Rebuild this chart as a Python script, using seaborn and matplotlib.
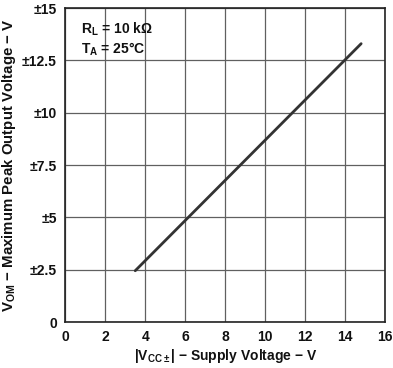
import matplotlib
matplotlib.use("Agg")
import matplotlib.pyplot as plt
import seaborn as sns
import pandas as pd

supply_v = [3.5, 14.8]
peak_out_v = [2.45, 13.3]
x_ticks = [0, 2, 4, 6, 8, 10, 12, 14, 16]
y_ticks = [0, 2.5, 5, 7.5, 10, 12.5, 15]
y_tick_labels = ["0", "±2.5", "±5", "±7.5", "±10", "±12.5", "±15"]

sns.set_theme(style="white")
plt.rcParams['font.family'] = ['Liberation Sans', 'DejaVu Sans']
plt.rcParams['font.weight'] = 'bold'
plt.rcParams['mathtext.fontset'] = 'custom'
plt.rcParams['mathtext.rm'] = 'Liberation Sans:bold'
plt.rcParams['mathtext.bf'] = 'Liberation Sans:bold'
plt.rcParams['mathtext.it'] = 'Liberation Sans:bold'
plt.rcParams['mathtext.default'] = 'rm'

fig = plt.figure(figsize=(3.93, 3.68), dpi=100)
ax = fig.add_axes([0.166, 0.125, 0.814, 0.853])

df = pd.DataFrame({"x": supply_v, "y": peak_out_v})
sns.lineplot(data=df, x="x", y="y", ax=ax, color="#333333", linewidth=2)

ax.set_xlim(0, 16)
ax.set_ylim(0, 15)
ax.set_xticks(x_ticks)
ax.set_yticks(y_ticks)
ax.set_yticklabels(y_tick_labels)
ax.grid(True, color="#606060", linewidth=0.9)
for s in ax.spines.values():
    s.set_color("#222222")
    s.set_linewidth(1.2)
ax.tick_params(axis='both', labelsize=10, length=0, pad=6, colors="#111111")
for lbl in ax.get_xticklabels() + ax.get_yticklabels():
    lbl.set_fontweight('bold')

ax.set_xlabel(r"|V$_{\mathrm{CC\pm}}$| − Supply Voltage − V", fontsize=10, fontweight='bold', labelpad=2, color="#111111")
ax.set_ylabel(r"V$_{\mathrm{OM}}$ − Maximum Peak Output Voltage − V", fontsize=10.8, fontweight='bold', labelpad=3, color="#111111")

ax.text(0.05, 0.96, r"R$_{\mathrm{L}}$ = 10 kΩ", transform=ax.transAxes, fontsize=10, fontweight='bold', va='top', ha='left', color="#111111")
ax.text(0.05, 0.895, r"T$_{\mathrm{A}}$ = 25°C", transform=ax.transAxes, fontsize=10, fontweight='bold', va='top', ha='left', color="#111111")

fig.savefig("out.png", dpi=100)
